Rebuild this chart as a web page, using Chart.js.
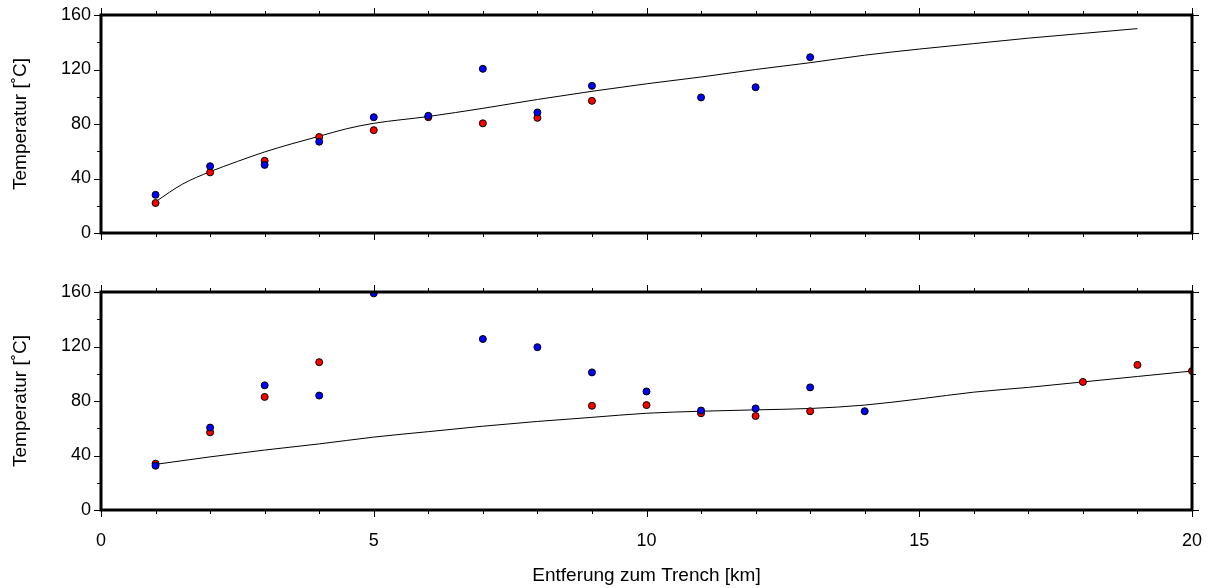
<!DOCTYPE html>
<html>
<head>
<meta charset="utf-8">
<script src="https://cdn.jsdelivr.net/npm/chart.js@4"></script>
<style>
  html, body { margin: 0; padding: 0; background: #fff; }
  #wrap { position: relative; width: 1213px; height: 588px; overflow: hidden; }
  canvas { position: absolute; left: 0; }
  #topChart { top: 0; }
  #bottomChart { top: 260px; }
</style>
</head>
<body>
<div id="wrap">
  <canvas id="topChart" width="1213" height="260"></canvas>
  <canvas id="bottomChart" width="1213" height="328"></canvas>
</div>
<script>
// upper panel
const topBlueX = [1, 2, 3, 4, 5, 6, 7, 8, 9, 11, 12, 13]
const topBlueY = [28, 49, 50, 67, 85, 86, 120.5, 88.5, 108, 99.5, 107, 129]
const topRedX = [1, 2, 3, 4, 5, 6, 7, 8, 9]
const topRedY = [22, 44.5, 53, 70.5, 75.5, 85, 80.5, 84.5, 97]
const topLineX = [1, 1.5, 2, 2.5, 3, 3.5, 4, 4.5, 5, 6, 7, 8, 9, 10, 11, 12, 13, 14, 15, 16, 17, 18, 19]
const topLineY = [23, 36, 45, 52.5, 59.5, 65.5, 71, 76.5, 80.5, 85.5, 91.5, 98, 104, 109.5, 114.5, 120, 125, 130.5, 135, 139, 143, 146.5, 150]

// lower panel
const botBlueX = [1, 2, 3, 4, 5, 7, 8, 9, 10, 11, 12, 13, 14]
const botBlueY = [32.5, 60.5, 91.5, 84, 159, 125.5, 119.5, 101, 87, 73, 74.5, 90, 72.5]
const botRedX = [1, 2, 3, 4, 9, 10, 11, 12, 13, 18, 19, 20]
const botRedY = [34, 57, 83, 108.5, 76.5, 77, 71, 69, 72.5, 94, 106.5, 102]
const botLineX = [1, 2, 3, 4, 5, 6, 7, 8, 9, 10, 11, 12, 13, 14, 15, 16, 17, 18, 19, 20]
const botLineY = [33.5, 39, 44, 48.5, 53.5, 57.5, 61.5, 65, 68, 71, 72.5, 73.5, 74.5, 77, 81.5, 86.5, 90, 94, 98, 102]

const yTitle = 'Temperatur [˚C]'
const xTitle = 'Entferung zum Trench [km]'

Chart.defaults.font.family = "'Liberation Sans', Arial, sans-serif"
Chart.defaults.font.size = 18
Chart.defaults.color = '#000'

function pts(xs, ys) {
    return xs.map((x, i) => ({ x: x, y: ys[i] }))
}

// thick frame with ticks on all four sides (GMT style)
const frame = {
    id: 'frame',
    afterDatasetsDraw(chart) {
        const { ctx, chartArea: { top, bottom, left, right }, scales: { x, y } } = chart
        ctx.save()
        ctx.strokeStyle = '#000'
        ctx.lineWidth = 1
        ctx.beginPath()
        for (let v = 0; v <= 20; v++) {
            const px = Math.round(x.getPixelForValue(v)) + 0.5
            const len = v % 5 === 0 ? 7 : 4
            ctx.moveTo(px, bottom); ctx.lineTo(px, bottom + len)
            ctx.moveTo(px, top); ctx.lineTo(px, top - len)
        }
        for (let v = 0; v <= 160; v += 20) {
            const py = Math.round(y.getPixelForValue(v)) + 0.5
            const len = v % 40 === 0 ? 7 : 4
            ctx.moveTo(left, py); ctx.lineTo(left - len, py)
            ctx.moveTo(right, py); ctx.lineTo(right + len, py)
        }
        ctx.stroke()
        ctx.lineWidth = 3
        ctx.strokeRect(left, top, right - left, bottom - top)
        ctx.restore()
    }
}

function makeChart(id, blue, red, line, showX, padTop) {
    return new Chart(document.getElementById(id), {
        type: 'scatter',
        data: {
            datasets: [
                { data: blue, backgroundColor: '#0000ff', borderColor: '#000', borderWidth: 1, pointRadius: 3.5, clip: 0 },
                { data: red, backgroundColor: '#ff0000', borderColor: '#000', borderWidth: 1, pointRadius: 3.5, clip: 0 },
                { data: line, showLine: true, borderColor: '#000', borderWidth: 1, pointRadius: 0, cubicInterpolationMode: 'monotone', clip: 0 }
            ]
        },
        options: {
            responsive: false,
            animation: false,
            devicePixelRatio: 1,
            layout: { padding: { top: padTop, right: 21, left: 0, bottom: 0 } },
            plugins: { legend: { display: false }, tooltip: { enabled: false } },
            scales: {
                x: {
                    type: 'linear', min: 0, max: 20,
                    grid: { display: false, drawTicks: false },
                    border: { display: false },
                    ticks: { display: showX, stepSize: 5, padding: 20 },
                    title: { display: showX, text: xTitle, font: { size: 19 }, padding: { bottom: 1 } },
                    afterFit: s => { s.height = showX ? 78 : 27; s.paddingLeft = 0; s.paddingRight = 0 }
                },
                y: {
                    min: 0, max: 160,
                    grid: { display: false, drawTicks: false },
                    border: { display: false },
                    ticks: { stepSize: 40, padding: 10 },
                    title: { display: true, text: yTitle, font: { size: 19 }, padding: { top: 9 } },
                    afterFit: s => { s.width = 101; s.paddingTop = 0; s.paddingBottom = 0 }
                }
            }
        },
        plugins: [frame]
    })
}

makeChart('topChart', pts(topBlueX, topBlueY), pts(topRedX, topRedY), pts(topLineX, topLineY), false, 15)
makeChart('bottomChart', pts(botBlueX, botBlueY), pts(botRedX, botRedY), pts(botLineX, botLineY), true, 32)
</script>
</body>
</html>
